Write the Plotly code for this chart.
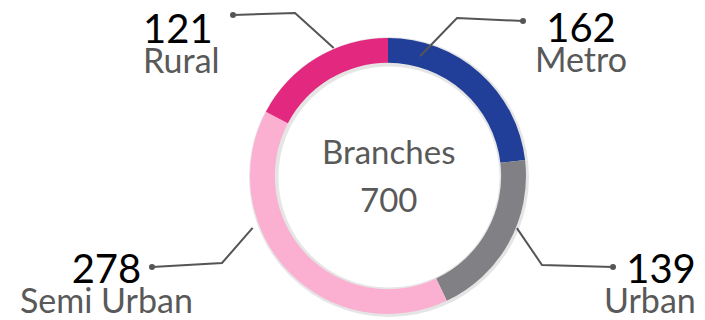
import math
import plotly.graph_objects as go

# Branch network by location type
categories = ["Metro", "Urban", "Semi Urban", "Rural"]
branches = [162, 139, 278, 121]
slice_colors = ["#213f99", "#808085", "#fbb0d1", "#e2287f"]

W, H = 705, 320
CX, CY = 388, 176          # donut centre in pixels
R_OUT, HOLE = 138, 0.82


def px(x):
    return x / W


def py(y):
    return 1 - y / H


fig = go.Figure()

# soft shadow ring behind the donut
fig.add_trace(go.Pie(
    values=[1], marker=dict(colors=["rgba(0,0,0,0.10)"], line=dict(width=0)),
    hole=0.79, sort=False, textinfo="none", hoverinfo="skip", showlegend=False,
    domain=dict(x=[px(CX - R_OUT - 1), px(CX + R_OUT + 3)],
                y=[py(CY + R_OUT + 3), py(CY - R_OUT - 1)]),
))

fig.add_trace(go.Pie(
    labels=categories, values=branches,
    marker=dict(colors=slice_colors, line=dict(width=0)),
    hole=HOLE, sort=False, direction="clockwise", rotation=0,
    textinfo="none", showlegend=False,
    domain=dict(x=[px(CX - R_OUT), px(CX + R_OUT)],
                y=[py(CY + R_OUT), py(CY - R_OUT)]),
))

# centre caption with the total
total = sum(branches)
fig.add_annotation(x=px(CX), y=py(151), xref="paper", yref="paper",
                   text="Branches", showarrow=False, yanchor="middle",
                   font=dict(family="Lato", size=33, color="#595959"))
fig.add_annotation(x=px(CX), y=py(199), xref="paper", yref="paper",
                   text=str(total), showarrow=False, yanchor="middle",
                   font=dict(family="Lato", size=33, color="#595959"))

# label layout: anchor point, anchors/alignment, dot, elbow,
# ring angle (deg clockwise from top), ring radius
label_layout = {
    "Metro":      dict(pos=(581, 41), xa="center", dot=(523, 21), elbow=(457, 18), ang=15, rad=124),
    "Urban":      dict(pos=(698, 282), xa="right", dot=(613, 267), elbow=(542, 265), ang=112, rad=139),
    "Semi Urban": dict(pos=(106, 282), xa="center", dot=(152, 267), elbow=(222, 263), ang=249, rad=145),
    "Rural":      dict(pos=(141, 42), xa="left", dot=(233, 15), elbow=(295, 13), ang=-23, rad=139),
}

for cat, val in zip(categories, branches):
    lay = label_layout[cat]
    ax_, ay_ = lay["pos"]
    text = (f"<span style='font-size:40px;color:#000000'>{val}</span><br>"
            f"<span style='font-size:34px;color:#595959'>{cat}</span>")
    fig.add_annotation(x=px(ax_), y=py(ay_), xref="paper", yref="paper",
                       text=text, showarrow=False, xanchor=lay["xa"], align=lay["xa"],
                       yanchor="middle",
                       font=dict(family="Lato", size=23, color="#595959"))
    a = math.radians(lay["ang"])
    ex = CX + lay["rad"] * math.sin(a)
    ey = CY - lay["rad"] * math.cos(a)
    dx, dy = lay["dot"]
    bx, by = lay["elbow"]
    path = f"M {px(dx)},{py(dy)} L {px(bx)},{py(by)} L {px(ex)},{py(ey)}"
    fig.add_shape(type="path", path=path, xref="paper", yref="paper",
                  line=dict(color="#555555", width=2))
    r = 3
    fig.add_shape(type="circle", xref="paper", yref="paper",
                  x0=px(dx - r), x1=px(dx + r), y0=py(dy + r), y1=py(dy - r),
                  fillcolor="#555555", line=dict(width=0))

fig.update_layout(
    width=W, height=H,
    margin=dict(l=0, r=0, t=0, b=0),
    paper_bgcolor="white", plot_bgcolor="white",
)

fig.write_html("out.html")
